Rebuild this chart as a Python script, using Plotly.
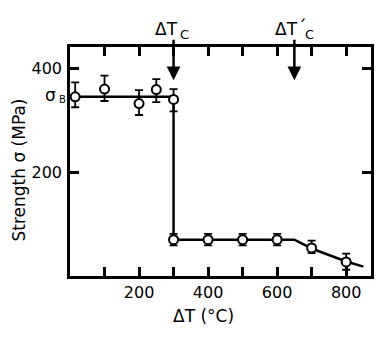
import plotly.graph_objects as go

# ---- data ----
upper_x = [15, 100, 200, 250, 300]
upper_y = [345, 360, 332, 359, 340]
upper_err_plus = [28, 26, 26, 20, 20]
upper_err_minus = [20, 23, 22, 24, 23]

lower_x = [300, 400, 500, 600, 700, 800]
lower_y = [70, 70, 70, 70, 54, 27]
lower_err_plus = [11, 11, 11, 11, 14, 16]
lower_err_minus = [11, 11, 11, 11, 10, 15]

curve_x = [0, 300, 300, 650, 700, 800, 850]
curve_y = [345, 345, 70, 70, 53, 28, 18]

sigma_b = 345
dTc = 300
dTc_prime = 650
arrow_tip = 377

x_ticks = [0, 100, 200, 300, 400, 500, 600, 700, 800]
x_ticktext = ["", "", "200", "", "400", "", "600", "", "800"]
y_ticks = [200, 400]
y_ticktext = ["200", "400"]

FONT = "DejaVu Sans"

fig = go.Figure()

fig.add_trace(go.Scatter(
    x=curve_x, y=curve_y, mode="lines",
    line=dict(color="black", width=2.5), showlegend=False, hoverinfo="skip"))

for xs, ys, ep, em in [(upper_x, upper_y, upper_err_plus, upper_err_minus),
                       (lower_x, lower_y, lower_err_plus, lower_err_minus)]:
    fig.add_trace(go.Scatter(
        x=xs, y=ys, mode="markers",
        marker=dict(symbol="circle", size=9, color="white",
                    line=dict(color="black", width=2)),
        error_y=dict(type="data", symmetric=False, array=ep, arrayminus=em,
                     color="black", thickness=1.8, width=4),
        showlegend=False, cliponaxis=False))

ann = []
# arrows
for xv in [dTc, dTc_prime]:
    ann.append(dict(x=xv, y=arrow_tip, xref="x", yref="y", ax=0, ay=-42,
                    showarrow=True, arrowhead=2, arrowwidth=2.5, arrowsize=1.1,
                    arrowcolor="black", text=""))
    ann.append(dict(x=xv, y=1, xref="x", yref="paper", text="ΔT",
                    showarrow=False, xanchor="right", yanchor="bottom",
                    xshift=6, yshift=6, font=dict(family=FONT, size=17, color="black")))
    ann.append(dict(x=xv, y=1, xref="x", yref="paper", text="C",
                    showarrow=False, xanchor="left", yanchor="bottom",
                    xshift=4 if xv == dTc else 9, yshift=3,
                    font=dict(family=FONT, size=13, color="black")))
ann.append(dict(x=dTc_prime, y=1, xref="x", yref="paper", text="´",
                showarrow=False, xanchor="left", yanchor="bottom",
                xshift=2, yshift=8, font=dict(family=FONT, size=17, color="black")))
# sigma_B
ann.append(dict(x=(50 - 70) / 304, y=sigma_b, xref="paper", yref="y", text="σ",
                showarrow=False, xanchor="center", yanchor="middle", yshift=2,
                font=dict(family=FONT, size=17, color="black")))
ann.append(dict(x=(62 - 70) / 304, y=sigma_b, xref="paper", yref="y", text="B",
                showarrow=False, xanchor="center", yanchor="middle", yshift=-3,
                font=dict(family=FONT, size=10, color="black")))
# axis titles
ann.append(dict(x=(18 - 70) / 304, y=(276 - 170) / 229, xref="paper", yref="paper",
                text="Strength σ (MPa)", textangle=-90, showarrow=False,
                xanchor="center", yanchor="middle",
                font=dict(family=FONT, size=17, color="black")))
ann.append(dict(x=388, y=(276 - 316) / 229, xref="x", yref="paper",
                text="ΔT (°C)", showarrow=False, xanchor="center", yanchor="middle",
                font=dict(family=FONT, size=17, color="black")))

axis_common = dict(showline=True, linecolor="black", linewidth=2.5, mirror="ticks",
                   ticks="inside", ticklen=9, tickwidth=2.5, tickcolor="black",
                   showgrid=False, zeroline=False,
                   tickfont=dict(family=FONT, size=16, color="black"))

# page body has an 8px default margin, so the figure is 8px smaller and shifted
fig.update_layout(
    width=377, height=353,
    margin=dict(l=62, r=11, t=39, b=85),
    paper_bgcolor="white", plot_bgcolor="white",
    xaxis=dict(range=[0, 872], tickmode="array", tickvals=x_ticks, ticktext=x_ticktext,
               ticklabelstandoff=0, **axis_common),
    yaxis=dict(range=[0, 441], tickmode="array", tickvals=y_ticks, ticktext=y_ticktext,
               ticklabelstandoff=2, **axis_common),
    annotations=ann,
)

fig.write_html("out.html")
